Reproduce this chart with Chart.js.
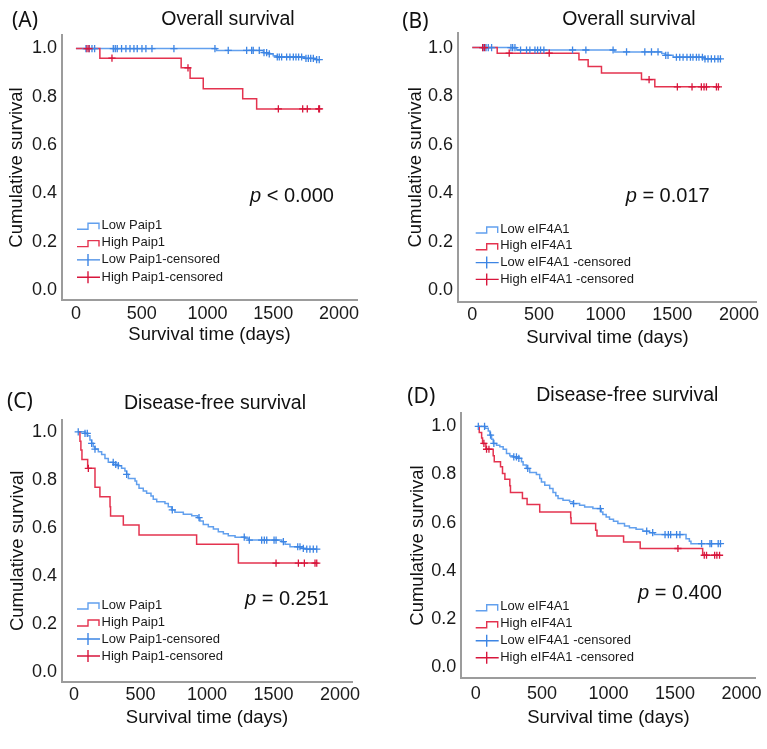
<!DOCTYPE html>
<html>
<head>
<meta charset="utf-8">
<title>Kaplan-Meier curves, Paip1 and eIF4A1</title>
<script src="https://cdn.jsdelivr.net/npm/chart.js@4.4.1/dist/chart.umd.min.js"></script>
<style>
  html, body { margin: 0; padding: 0; background: #fff; }
  #wrap { position: relative; width: 767px; height: 749px; overflow: hidden; }
  canvas { position: absolute; }
</style>
</head>
<body>
<div id="wrap">
  <canvas id="chartA" width="384" height="370" style="left:0px;top:0px"></canvas>
  <canvas id="chartB" width="383" height="370" style="left:384px;top:0px"></canvas>
  <canvas id="chartC" width="384" height="379" style="left:0px;top:370px"></canvas>
  <canvas id="chartD" width="383" height="379" style="left:384px;top:370px"></canvas>
</div>
<script>
const xTicks = [0, 500, 1000, 1500, 2000];
const yTicks = [0, 0.2, 0.4, 0.6, 0.8, 1.0];

// (A) overall survival, Paip1
const aLowTime = [0, 1069, 1425, 1462, 1500, 1526, 1741, 1830, 1850];
const aLowSurv = [1, 0.992, 0.983, 0.978, 0.970, 0.965, 0.959, 0.954, 0.954];
const aLowCens = [76, 101, 122, 142, 284, 299, 314, 347, 380, 411, 441, 466, 502, 532, 578, 745, 1057, 1158,
  1298, 1336, 1348, 1394, 1430, 1450, 1470, 1531, 1546, 1564, 1602, 1627, 1653, 1673, 1693, 1716, 1749,
  1767, 1785, 1805, 1830, 1850];
const aHighTime = [0, 182, 800, 868, 968, 1268, 1374, 1852];
const aHighSurv = [1, 0.96, 0.92, 0.877, 0.834, 0.792, 0.75, 0.75];
const aHighCens = [84, 99, 274, 852, 1539, 1724, 1759, 1846, 1852];

// (B) overall survival, eIF4A1
const bLowTime = [0, 332, 1069, 1421, 1445, 1506, 1743, 1861];
const bLowSurv = [1, 0.99, 0.982, 0.975, 0.968, 0.960, 0.953, 0.953];
const bLowCens = [82, 103, 120, 145, 290, 303, 320, 362, 407, 432, 470, 490, 512, 537, 752, 852, 1056, 1157,
  1294, 1344, 1393, 1451, 1468, 1531, 1556, 1581, 1610, 1636, 1655, 1681, 1700, 1726, 1745, 1768, 1793,
  1818, 1843, 1861];
const bHighTime = [0, 187, 800, 869, 969, 1269, 1369, 1846];
const bHighSurv = [1, 0.977, 0.95, 0.922, 0.895, 0.868, 0.838, 0.838];
const bHighCens = [78, 93, 277, 577, 1326, 1538, 1648, 1718, 1738, 1756, 1831, 1846];

// (C) disease-free survival, Paip1
const cLowTime = [30, 83, 103, 120, 133, 145, 158, 183, 208, 233, 258, 296, 333, 358, 383, 396, 409, 459, 471,
  489, 521, 546, 579, 596, 622, 684, 709, 734, 759, 822, 885, 930, 947, 972, 1010, 1048, 1085, 1123, 1160,
  1211, 1286, 1311, 1562, 1587, 1624, 1712, 1745, 1825];
const cLowSurv = [1, 0.993, 0.984, 0.966, 0.952, 0.938, 0.928, 0.917, 0.906, 0.889, 0.873, 0.864, 0.859, 0.848,
  0.837, 0.823, 0.806, 0.795, 0.781, 0.765, 0.754, 0.744, 0.733, 0.720, 0.709, 0.702, 0.688, 0.675, 0.665,
  0.657, 0.651, 0.643, 0.629, 0.615, 0.605, 0.596, 0.584, 0.576, 0.568, 0.562, 0.557, 0.550, 0.543, 0.532,
  0.522, 0.515, 0.512, 0.512];
const cLowCens = [32, 83, 100, 133, 158, 295, 314, 333, 396, 739, 940, 1280, 1318, 1411, 1431, 1449, 1504,
  1519, 1574, 1682, 1699, 1724, 1750, 1774, 1799, 1825];
const cHighTime = [30, 45, 52, 60, 103, 158, 195, 271, 275, 371, 489, 922, 1236, 1825];
const cHighSurv = [1, 0.961, 0.924, 0.885, 0.848, 0.769, 0.730, 0.688, 0.650, 0.612, 0.571, 0.532, 0.454, 0.454];
const cHighCens = [108, 1519, 1687, 1732, 1812, 1825];

// (D) disease-free survival, eIF4A1
const dLowTime = [18, 70, 95, 107, 120, 132, 157, 182, 207, 232, 257, 282, 320, 345, 357, 382, 407, 457, 482,
  495, 520, 557, 582, 603, 620, 657, 707, 732, 782, 820, 882, 945, 957, 982, 1007, 1037, 1070, 1120, 1157,
  1207, 1257, 1307, 1345, 1583, 1608, 1620, 1842];
const dLowSurv = [1, 0.992, 0.981, 0.964, 0.947, 0.929, 0.922, 0.915, 0.905, 0.887, 0.878, 0.873, 0.867, 0.853,
  0.839, 0.825, 0.808, 0.800, 0.783, 0.769, 0.755, 0.742, 0.725, 0.711, 0.700, 0.693, 0.686, 0.679, 0.672,
  0.665, 0.658, 0.644, 0.633, 0.623, 0.614, 0.605, 0.596, 0.586, 0.578, 0.572, 0.564, 0.558, 0.550, 0.533,
  0.522, 0.512, 0.512];
const dLowCens = [20, 67, 112, 137, 287, 307, 325, 392, 737, 938, 1287, 1332, 1425, 1450, 1467, 1512, 1537,
  1700, 1763, 1775, 1825, 1842];
const dHighTime = [18, 27, 45, 52, 77, 132, 140, 187, 202, 220, 257, 262, 352, 387, 482, 715, 718, 903, 913,
  1113, 1238, 1708, 1835];
const dHighSurv = [1, 0.975, 0.952, 0.929, 0.905, 0.878, 0.853, 0.832, 0.804, 0.780, 0.753, 0.725, 0.700,
  0.675, 0.644, 0.620, 0.596, 0.568, 0.544, 0.519, 0.492, 0.464, 0.464];
const dHighCens = [62, 82, 100, 1522, 1720, 1737, 1798, 1815, 1835];

const namesPaip1 = ['Low Paip1', 'High Paip1', 'Low Paip1-censored', 'High Paip1-censored'];
const namesEif = ['Low eIF4A1', 'High eIF4A1', 'Low eIF4A1 -censored', 'High eIF4A1 -censored'];

const BLUE = '#62a0ee';
const BLUE_MARK = '#3d85e4';
const RED = '#e4334f';
const RED_MARK = '#d8163c';
const AXIS = '#9c9c9c';
const FONT = '"Liberation Sans", Arial, sans-serif';
const TITLE_SIZE = 18.5;

Chart.defaults.font.family = FONT;
Chart.defaults.color = '#111';

// survival level at time t (value of the step curve)
function survAt(times, surv, t) {
    let s = surv[0];
    for (let i = 0; i < times.length; i++) {
        if (times[i] <= t) s = surv[i];
    }
    return s;
}

function stepPoints(times, surv) {
    return times.map((t, i) => ({ x: t, y: surv[i] }));
}

function censPoints(cens, times, surv) {
    return cens.map(t => ({ x: t, y: survAt(times, surv, t) }));
}

// panel letter, heading, p value and the legend box
const extrasPlugin = {
    id: 'extras',
    afterDraw(chart, args, o) {
        const ctx = chart.ctx;
        ctx.save();
        ctx.fillStyle = '#111';
        ctx.textBaseline = 'middle';

        ctx.textAlign = 'left';
        ctx.font = '21px "Noto Sans", sans-serif';
        ctx.fillText(o.letter, o.letterX, o.letterY);

        ctx.textAlign = 'center';
        ctx.font = '19.5px ' + FONT;
        ctx.fillText(o.heading, o.headX, o.headY);

        ctx.textAlign = 'left';
        ctx.font = 'italic 20px ' + FONT;
        ctx.fillText('p', o.pX, o.pY);
        const pw = ctx.measureText('p').width;
        ctx.font = '20px ' + FONT;
        ctx.fillText(o.pText, o.pX + pw, o.pY);

        ctx.font = '13px ' + FONT;
        ctx.lineWidth = 1.4;
        const colors = [BLUE, RED, BLUE_MARK, RED_MARK];
        o.names.forEach((name, i) => {
            const x0 = o.legX;
            const y = o.legY + i * o.legDy;
            ctx.strokeStyle = colors[i];
            ctx.beginPath();
            if (i < 2) {
                ctx.moveTo(x0, y + 4);
                ctx.lineTo(x0 + 11, y + 4);
                ctx.lineTo(x0 + 11, y - 2);
                ctx.lineTo(x0 + 22, y - 2);
                ctx.lineTo(x0 + 22, y + 4);
            } else {
                ctx.moveTo(x0, y);
                ctx.lineTo(x0 + 23, y);
                ctx.moveTo(x0 + 11, y - 6);
                ctx.lineTo(x0 + 11, y + 6);
            }
            ctx.stroke();
            ctx.fillStyle = '#1a1a1a';
            ctx.fillText(name, x0 + 24.5, y);
        });
        ctx.restore();
    }
};

function makeChart(id, p) {
    const canvas = document.getElementById(id);
    const W = canvas.width, H = canvas.height;
    const lh = TITLE_SIZE * 1.2;
    const xHeight = p.xTitleY - p.area.b + lh / 2;

    return new Chart(canvas, {
        type: 'line',
        data: {
            datasets: [
                {
                    label: p.names[0], data: stepPoints(p.lowT, p.lowS), stepped: true,
                    borderColor: BLUE, borderWidth: 1.5, pointRadius: 0, order: 4
                },
                {
                    label: p.names[1], data: stepPoints(p.highT, p.highS), stepped: true,
                    borderColor: RED, borderWidth: 1.5, pointRadius: 0, order: 3
                },
                {
                    label: p.names[2], data: censPoints(p.lowC, p.lowT, p.lowS), showLine: false,
                    pointStyle: 'cross', pointRadius: 3.6, pointBorderWidth: 1.3,
                    pointBorderColor: BLUE_MARK, borderColor: BLUE_MARK, order: 2
                },
                {
                    label: p.names[3], data: censPoints(p.highC, p.highT, p.highS), showLine: false,
                    pointStyle: 'cross', pointRadius: 3.6, pointBorderWidth: 1.3,
                    pointBorderColor: RED_MARK, borderColor: RED_MARK, order: 1
                }
            ]
        },
        options: {
            responsive: false,
            animation: false,
            events: [],
            layout: {
                padding: { left: 0, top: p.area.t, right: W - p.area.r, bottom: H - p.area.b - xHeight }
            },
            plugins: {
                legend: { display: false },
                tooltip: { enabled: false },
                extras: p.extras
            },
            scales: {
                x: {
                    type: 'linear',
                    min: p.xMin,
                    max: p.xMax,
                    afterBuildTicks: s => { s.ticks = xTicks.map(v => ({ value: v })); },
                    afterFit: s => { s.height = xHeight; },
                    grid: { display: false, drawTicks: false },
                    border: { color: AXIS, width: 2 },
                    ticks: {
                        padding: p.xPad, maxRotation: 0, autoSkip: false, color: '#1a1a1a',
                        font: { size: 18 }, callback: v => String(v)
                    },
                    title: {
                        display: true, text: 'Survival time (days)', color: '#111',
                        font: { size: TITLE_SIZE }, padding: 0
                    }
                },
                y: {
                    type: 'linear',
                    min: p.yMin,
                    max: p.yMax,
                    afterBuildTicks: s => { s.ticks = yTicks.map(v => ({ value: v })); },
                    afterFit: s => { s.width = p.area.l; },
                    grid: { display: false, drawTicks: false },
                    border: { color: AXIS, width: 2 },
                    ticks: { padding: 5, color: '#1a1a1a', font: { size: 18 }, callback: v => v.toFixed(1) },
                    title: {
                        display: true, text: 'Cumulative survival', color: '#111',
                        font: { size: TITLE_SIZE }, padding: { top: p.yTitleX - lh / 2, bottom: 0 }
                    }
                }
            }
        },
        plugins: [extrasPlugin]
    });
}

document.addEventListener('DOMContentLoaded', function () {
    makeChart('chartA', {
        lowT: aLowTime, lowS: aLowSurv, lowC: aLowCens,
        highT: aHighTime, highS: aHighSurv, highC: aHighCens,
        names: namesPaip1,
        area: { l: 62, t: 35, r: 357, b: 300 },
        xMin: -106, xMax: 2137, yMin: -0.041, yMax: 1.056,
        xPad: 3, yTitleX: 17, xTitleY: 335,
        extras: {
            letter: '(A)', letterX: 12, letterY: 21,
            heading: 'Overall survival', headX: 228, headY: 19.5,
            pText: ' < 0.000', pX: 250, pY: 196,
            names: namesPaip1, legX: 77, legY: 225.3, legDy: 17.3
        }
    });

    makeChart('chartB', {
        lowT: bLowTime, lowS: bLowSurv, lowC: bLowCens,
        highT: bHighTime, highS: bHighSurv, highC: bHighCens,
        names: namesEif,
        area: { l: 74, t: 33, r: 372.7, b: 301.7 },
        xMin: -107, xMax: 2133, yMin: -0.048, yMax: 1.06,
        xPad: 3, yTitleX: 31.7, xTitleY: 338.3,
        extras: {
            letter: '(B)', letterX: 18.3, letterY: 22.5,
            heading: 'Overall survival', headX: 245, headY: 20,
            pText: ' = 0.017', pX: 241.7, pY: 196,
            names: namesEif, legX: 91.7, legY: 229, legDy: 16.8
        }
    });

    makeChart('chartC', {
        lowT: cLowTime, lowS: cLowSurv, lowC: cLowCens,
        highT: cHighTime, highS: cHighSurv, highC: cHighCens,
        names: namesPaip1,
        area: { l: 62, t: 50, r: 352, b: 311.7 },
        xMin: -90, xMax: 2090, yMin: -0.039, yMax: 1.049,
        xPad: 3, yTitleX: 18.3, xTitleY: 348.3,
        extras: {
            letter: '(C)', letterX: 7, letterY: 32,
            heading: 'Disease-free survival', headX: 215, headY: 33.8,
            pText: ' = 0.251', pX: 245, pY: 229.7,
            names: namesPaip1, legX: 77, legY: 235, legDy: 17
        }
    });

    makeChart('chartD', {
        lowT: dLowTime, lowS: dLowSurv, lowC: dLowCens,
        highT: dHighTime, highS: dHighSurv, highC: dHighCens,
        names: namesEif,
        area: { l: 77.3, t: 42.7, r: 372.3, b: 308.3 },
        xMin: -108, xMax: 2105, yMin: -0.048, yMax: 1.057,
        xPad: 5, yTitleX: 34, xTitleY: 348.3,
        extras: {
            letter: '(D)', letterX: 23.3, letterY: 26.7,
            heading: 'Disease-free survival', headX: 243.3, headY: 25.8,
            pText: ' = 0.400', pX: 254, pY: 223.3,
            names: namesEif, legX: 91.7, legY: 236.7, legDy: 17
        }
    });
});
</script>
</body>
</html>
